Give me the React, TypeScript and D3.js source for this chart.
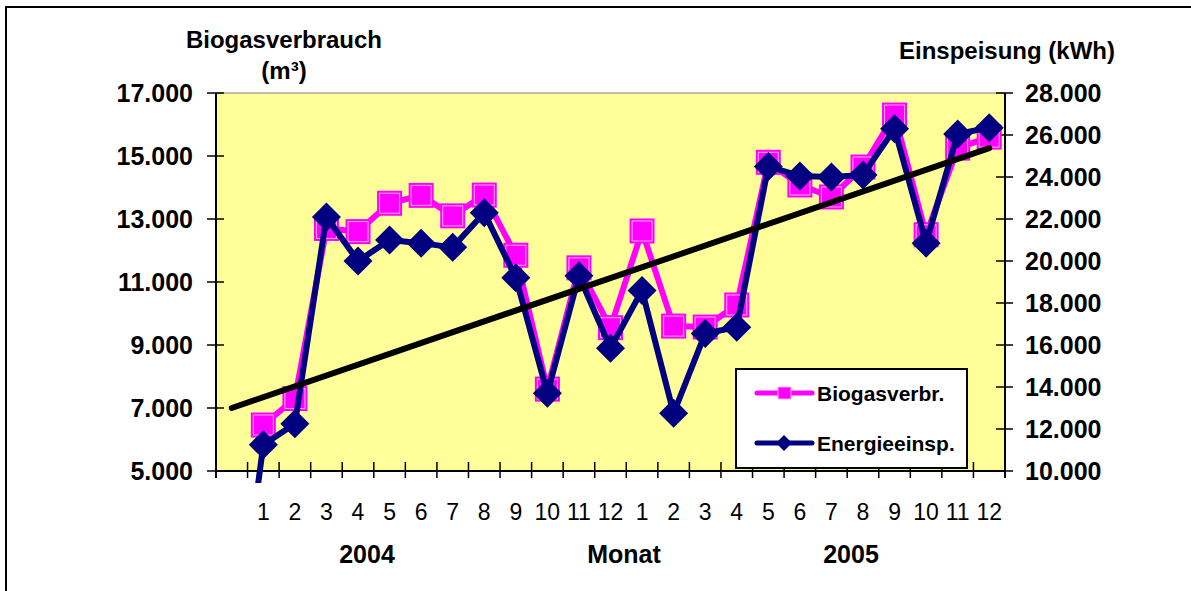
import React from "react";
import * as d3 from "d3";

// categories: a blank start slot, then Jan–Dec 2004 and Jan–Dec 2005
const categories = ["", "1", "2", "3", "4", "5", "6", "7", "8", "9", "10", "11", "12",
  "1", "2", "3", "4", "5", "6", "7", "8", "9", "10", "11", "12"];

// Biogasverbrauch (m³), left axis
const biogas = [null, 6460, 7300, 12700, 12600, 13500, 13750, 13100, 13760, 11850, 7600, 11450, 9550,
  12620, 9600, 9570, 10270, 14800, 14080, 13700, 14650, 16300, 12500, 15250, 15600];

// Einspeisung (kWh), right axis
const energie = [0, 11250, 12250, 22100, 20000, 21000, 20850, 20650, 22300, 19200, 13700, 19300, 15850,
  18600, 12750, 16550, 16850, 24500, 24050, 24000, 24100, 26300, 20850, 26050, 26350];

// linear trend (left axis), first and last category
const trend = [7000, 15250];

const leftTicks = [5000, 7000, 9000, 11000, 13000, 15000, 17000];
const rightTicks = [10000, 12000, 14000, 16000, 18000, 20000, 22000, 24000, 26000, 28000];

const W = 1191;
const H = 591;
const plot = { left: 216, right: 1005, top: 93, bottom: 471 };
const FONT = "'Liberation Sans', Arial, sans-serif";

const de = d3.formatLocale({ decimal: ",", thousands: ".", grouping: [3], currency: ["", ""] });
const fmt = de.format(",.0f");

export default function App() {
  const idx = categories.map((_, i) => i);
  const x = d3.scaleBand<number>().domain(idx).range([plot.left, plot.right]).padding(0);
  const cx = (i: number) => (x(i) as number) + x.bandwidth() / 2;
  const yL = d3.scaleLinear().domain([5000, 17000]).range([plot.bottom, plot.top]);
  const yR = d3.scaleLinear().domain([10000, 28000]).range([plot.bottom, plot.top]);

  const bioLine = d3
    .line<number | null>()
    .defined((d) => d != null)
    .x((_, i) => cx(i))
    .y((d) => yL(d as number));
  const enLine = d3
    .line<number>()
    .x((_, i) => cx(i))
    .y((d) => yR(d));
  const trendLine = d3
    .line<number>()
    .x((_, i) => cx(i === 0 ? 0 : categories.length - 1))
    .y((d) => yL(d));

  const boundaries = d3.range(categories.length + 1).map((i) =>
    i < categories.length ? (x(i) as number) : plot.right
  );

  const sq = 12.5;
  const dm = 14.5;

  return (
    <svg
      width={W}
      height={H}
      style={{ position: "absolute", left: 0, top: 0, background: "#fff" }}
      fontFamily={FONT}
    >
      <defs>
        <clipPath id="plotClip">
          <rect x={plot.left} y={plot.top - 20} width={plot.right - plot.left + 20} height={plot.bottom - plot.top + 32} />
        </clipPath>
      </defs>

      {/* outer chart border */}
      <rect x={6} y={7} width={W + 10} height={H + 10} fill="#fff" stroke="#000" strokeWidth={2} />

      {/* plot area */}
      <rect x={plot.left} y={plot.top} width={plot.right - plot.left} height={plot.bottom - plot.top} fill="#FFFF99" />
      <line x1={plot.left} x2={plot.right} y1={plot.top} y2={plot.top} stroke="#808080" strokeWidth={1} />

      {/* axis titles */}
      <text x={284} y={48} textAnchor="middle" fontWeight="bold" fontSize={24}>Biogasverbrauch</text>
      <text x={284} y={79} textAnchor="middle" fontWeight="bold" fontSize={24}>(m³)</text>
      <text x={1007} y={59} textAnchor="middle" fontWeight="bold" fontSize={24}>Einspeisung (kWh)</text>

      {/* left axis */}
      <line x1={plot.left} x2={plot.left} y1={plot.top} y2={plot.bottom + 7} stroke="#000" strokeWidth={2} />
      {leftTicks.map((t) => (
        <g key={"l" + t}>
          <line x1={plot.left - 9} x2={plot.left + 8} y1={yL(t)} y2={yL(t)} stroke="#000" strokeWidth={1.5} />
          <text x={193} y={yL(t)} dy="0.36em" textAnchor="end" fontWeight="bold" fontSize={25}>{fmt(t)}</text>
        </g>
      ))}

      {/* right axis */}
      <line x1={plot.right} x2={plot.right} y1={plot.top} y2={plot.bottom + 7} stroke="#000" strokeWidth={2} />
      {rightTicks.map((t) => (
        <g key={"r" + t}>
          <line x1={plot.right - 9} x2={plot.right + 8} y1={yR(t)} y2={yR(t)} stroke="#000" strokeWidth={1.5} />
          <text x={1025} y={yR(t)} dy="0.36em" textAnchor="start" fontWeight="bold" fontSize={25}>{fmt(t)}</text>
        </g>
      ))}

      {/* bottom axis */}
      <line x1={plot.left} x2={plot.right} y1={plot.bottom} y2={plot.bottom} stroke="#000" strokeWidth={2} />
      {boundaries.map((bx, i) => (
        <line key={"b" + i} x1={bx} x2={bx} y1={plot.bottom - 9} y2={plot.bottom + 7} stroke="#000" strokeWidth={1.5} />
      ))}
      {categories.map((c, i) => (
        <text key={"c" + i} x={cx(i)} y={520} textAnchor="middle" fontSize={23}>{c}</text>
      ))}
      <text x={367} y={563} textAnchor="middle" fontWeight="bold" fontSize={25}>2004</text>
      <text x={624} y={563} textAnchor="middle" fontWeight="bold" fontSize={25}>Monat</text>
      <text x={851} y={563} textAnchor="middle" fontWeight="bold" fontSize={25}>2005</text>

      {/* Biogasverbrauch series */}
      <path d={bioLine(biogas) ?? ""} fill="none" stroke="#FF00FF" strokeWidth={6} strokeLinejoin="round" />
      {biogas.map((v, i) =>
        v == null ? null : (
          <g key={"p" + i}>
            <rect x={cx(i) - sq} y={yL(v) - sq} width={sq * 2} height={sq * 2} fill="#FF00FF" />
            <rect x={cx(i) - sq + 2.5} y={yL(v) - sq + 2.5} width={sq * 2 - 5} height={sq * 2 - 5} fill="none" stroke="#FFAAFF" strokeWidth={1} />
          </g>
        )
      )}

      {/* Energieeinspeisung series */}
      <g clipPath="url(#plotClip)">
        <path d={enLine(energie) ?? ""} fill="none" stroke="#000080" strokeWidth={6} strokeLinejoin="round" />
      </g>
      {energie.map((v, i) =>
        v < 10000 ? null : (
          <path
            key={"n" + i}
            d={`M${cx(i)},${yR(v) - dm}L${cx(i) + dm},${yR(v)}L${cx(i)},${yR(v) + dm}L${cx(i) - dm},${yR(v)}Z`}
            fill="#000080"
          />
        )
      )}

      {/* trend line */}
      <path d={trendLine(trend) ?? ""} fill="none" stroke="#000" strokeWidth={6} strokeLinecap="round" />

      {/* legend */}
      <rect x={736} y={369} width={231} height={99} fill="#fff" stroke="#000" strokeWidth={2} />
      <line x1={757} x2={812} y1={393} y2={393} stroke="#FF00FF" strokeWidth={5} strokeLinecap="round" />
      <rect x={778} y={387} width={13} height={12} fill="#FF00FF" stroke="#FFAAFF" strokeWidth={1} />
      <text x={817} y={393} dy="0.36em" fontWeight="bold" fontSize={21}>Biogasverbr.</text>
      <line x1={757} x2={812} y1={443} y2={443} stroke="#000080" strokeWidth={5} strokeLinecap="round" />
      <path d="M784,435L792,443L784,451L776,443Z" fill="#000080" />
      <text x={817} y={443} dy="0.36em" fontWeight="bold" fontSize={21}>Energieeinsp.</text>
    </svg>
  );
}
